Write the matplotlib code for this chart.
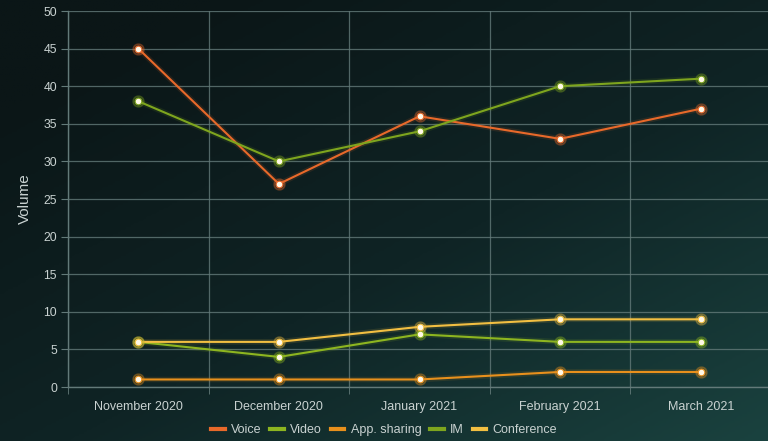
import numpy as np
import matplotlib
matplotlib.use("Agg")
import matplotlib.pyplot as plt
from matplotlib.colors import LinearSegmentedColormap
from matplotlib.lines import Line2D

plt.rcParams['font.family'] = ['Liberation Sans', 'DejaVu Sans']

months = ["November 2020", "December 2020", "January 2021", "February 2021", "March 2021"]
series_names = ["Voice", "Video", "App. sharing", "IM", "Conference"]
voice = [45, 27, 36, 33, 37]
video = [6, 4, 7, 6, 6]
app_sharing = [1, 1, 1, 2, 2]
im = [38, 30, 34, 40, 41]
conference = [6, 6, 8, 9, 9]
colors = ["#e8692a", "#8db520", "#e8901c", "#7ea51e", "#f2bf42"]

W, H = 768, 441
fig = plt.figure(figsize=(W / 100, H / 100), dpi=100)

# diagonal dark-to-teal background
bg = fig.add_axes([0, 0, 1, 1], zorder=0)
yy, xx = np.mgrid[0:1:200j, 0:1:300j]
t = np.clip(0.55 * xx + 0.6 * (1 - yy) - 0.15, 0, 1)
t = np.flipud(t)
cmap = LinearSegmentedColormap.from_list("bg", ["#0b1617", "#0f2425", "#1a423f"])
bg.imshow(t, cmap=cmap, aspect="auto", extent=[0, 1, 0, 1], origin="upper")
bg.set_axis_off()

ax = fig.add_axes([68 / W, 1 - 387 / H, (771 - 68) / W, (387 - 11) / H], zorder=1)
ax.patch.set_alpha(0)

x = np.arange(len(months))
data = [voice, video, app_sharing, im, conference]
for vals, c, name in zip(data, colors, series_names):
    # soft glow under the line
    ax.plot(x, vals, color=c, lw=4, alpha=0.12, solid_capstyle="round", zorder=2)
    ax.plot(x, vals, color=c, lw=1.5, zorder=3, label=name)
    ax.plot(x, vals, ls="none", marker="o", ms=8, color=c, alpha=0.3, zorder=4)
    ax.plot(x, vals, ls="none", marker="o", ms=4.8, markerfacecolor="#fff8e6",
            markeredgecolor=c, markeredgewidth=0.8, zorder=5)

ax.set_xlim(-0.5, 4.5)
ax.set_ylim(0, 50)
ax.set_yticks(range(0, 51, 5))
ax.set_xticks(x)
ax.set_xticklabels(months)
ax.set_xticks(np.arange(-0.5, 4.6, 1), minor=True)

grid_c = "#637a79"
ax.yaxis.grid(True, color=grid_c, lw=0.9, alpha=0.8)
ax.xaxis.grid(True, which="minor", color=grid_c, lw=0.9, alpha=0.8)
ax.xaxis.grid(False, which="major")
ax.set_axisbelow(True)

for s in ["top", "right"]:
    ax.spines[s].set_visible(False)
for s in ["left", "bottom"]:
    ax.spines[s].set_color(grid_c)
    ax.spines[s].set_linewidth(1)

txt_c = "#c9d2d1"
ax.tick_params(axis="y", colors=grid_c, labelcolor=txt_c, labelsize=8.8, length=5, pad=3)
ax.tick_params(axis="x", which="major", length=0, labelcolor=txt_c, labelsize=9, pad=10)
ax.tick_params(axis="x", which="minor", length=5, color=grid_c)

ax.set_ylabel("Volume", color=txt_c, fontsize=11, labelpad=8)

handles = [Line2D([0], [0], color=c, lw=3) for c in colors]
fig.legend(handles, series_names, loc="center", bbox_to_anchor=(0.5, 1 - 430 / H),
           ncol=5, frameon=False, fontsize=9, labelcolor=txt_c,
           handlelength=1.1, handletextpad=0.5, columnspacing=0.7)

fig.savefig("out.png", dpi=100)
